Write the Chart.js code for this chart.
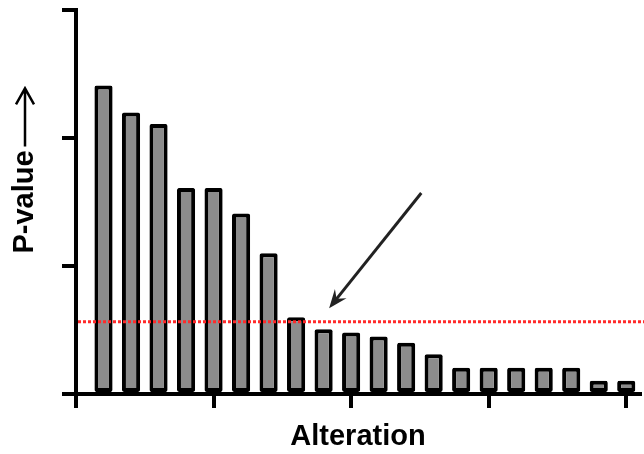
<!DOCTYPE html>
<html>
<head>
<meta charset="utf-8">
<script src="https://cdn.jsdelivr.net/npm/chart.js@4.4.1/dist/chart.umd.min.js"></script>
<style>
  html,body{margin:0;padding:0;background:#fff;}
  #wrap{width:644px;height:454px;}
</style>
</head>
<body>
<div id="wrap"><canvas id="c"></canvas></div>
<script>
// alteration index along x (1..20) and bar heights
const positions = [1,2,3,4,5,6,7,8,9,10,11,12,13,14,15,16,17,18,19,20];
const pValues = [2.41,2.20,2.11,1.61,1.61,1.41,1.10,0.60,0.505,0.48,0.45,0.40,0.31,0.205,0.205,0.205,0.205,0.205,0.104,0.104];
const xTicks = [0,5,10,15,20];
const yTicks = [0,1,2,3];
const threshold = 0.565;
// annotation arrow, in data units: from tail to tip
const arrowFrom = {x:12.55, y:1.57};
const arrowTo = {x:9.2, y:0.67};

const titleFont = '"Liberation Sans", Arial, sans-serif';

const extras = {
    id:'extras',
    afterDatasetsDraw(chart){
        const {ctx, chartArea, scales:{x, y}} = chart;
        ctx.save();
        // red dotted threshold line
        ctx.strokeStyle = '#ff2a2a';
        ctx.lineWidth = 3;
        ctx.setLineDash([3,2]);
        const ty = y.getPixelForValue(threshold);
        ctx.beginPath();
        ctx.moveTo(chartArea.left + 2, ty);
        ctx.lineTo(chart.width, ty);
        ctx.stroke();
        ctx.setLineDash([]);

        // arrow
        const x1 = x.getPixelForValue(arrowFrom.x), y1 = y.getPixelForValue(arrowFrom.y);
        const x2 = x.getPixelForValue(arrowTo.x), y2 = y.getPixelForValue(arrowTo.y);
        const ang = Math.atan2(y2 - y1, x2 - x1);
        const head = 20;
        ctx.strokeStyle = '#222';
        ctx.fillStyle = '#222';
        ctx.lineWidth = 3;
        ctx.beginPath();
        ctx.moveTo(x1, y1);
        ctx.lineTo(x2 - Math.cos(ang) * 10, y2 - Math.sin(ang) * 10);
        ctx.stroke();
        ctx.beginPath();
        ctx.moveTo(x2, y2);
        ctx.lineTo(x2 - head * Math.cos(ang - 0.38), y2 - head * Math.sin(ang - 0.38));
        ctx.lineTo(x2 - head * 0.6 * Math.cos(ang), y2 - head * 0.6 * Math.sin(ang));
        ctx.lineTo(x2 - head * Math.cos(ang + 0.38), y2 - head * Math.sin(ang + 0.38));
        ctx.closePath();
        ctx.fill();

        // arrow after the y title
        ctx.font = 'bold 29px ' + titleFont;
        const tw = ctx.measureText('P-value').width;
        const cy = (y.top + y.bottom) / 2;
        const ax = 25;
        const a0 = cy - tw / 2 - 4, a1 = cy - tw / 2 - 62;
        ctx.strokeStyle = '#000';
        ctx.lineWidth = 2.5;
        ctx.beginPath();
        ctx.moveTo(ax, a0);
        ctx.lineTo(ax, a1);
        ctx.moveTo(ax - 9, a1 + 16);
        ctx.lineTo(ax, a1);
        ctx.lineTo(ax + 9, a1 + 16);
        ctx.stroke();
        ctx.restore();
    }
};

new Chart(document.getElementById('c'), {
    type:'bar',
    data:{
        datasets:[{
            data: positions.map((p,i)=>({x:p, y:pValues[i]})),
            backgroundColor:'#8c8c8c',
            borderColor:'#000',
            borderWidth:4,
            borderSkipped:false,
            borderRadius:2,
            barPercentage:0.66,
            categoryPercentage:1,
            clip:false
        }]
    },
    options:{
        responsive:true,
        maintainAspectRatio:false,
        animation:false,
        layout:{padding:{top:10, right:4, left:0, bottom:0}},
        plugins:{legend:{display:false}, tooltip:{enabled:false}},
        scales:{
            x:{
                type:'linear',
                offset:false,
                min:0, max:20.5,
                afterBuildTicks(s){ s.ticks = xTicks.map(v=>({value:v})); },
                afterFit(s){ s.height = 60; },
                ticks:{display:false},
                grid:{offset:false, drawOnChartArea:false, color:'#000', lineWidth:4, tickLength:14},
                border:{color:'#000', width:4},
                title:{display:true, text:'Alteration', color:'#000',
                    font:{family:titleFont, size:29, weight:'bold'},
                    padding:{top:0, bottom:0}}
            },
            y:{
                min:0, max:3,
                afterBuildTicks(s){ s.ticks = yTicks.map(v=>({value:v})); },
                afterFit(s){ s.width = 76; },
                ticks:{display:false},
                grid:{drawOnChartArea:false, color:'#000', lineWidth:4, tickLength:14},
                border:{color:'#000', width:4},
                title:{display:true, text:'P-value', color:'#000',
                    font:{family:titleFont, size:29, weight:'bold'},
                    padding:{top:8, bottom:0}}
            }
        }
    },
    plugins:[extras]
});
</script>
</body>
</html>
